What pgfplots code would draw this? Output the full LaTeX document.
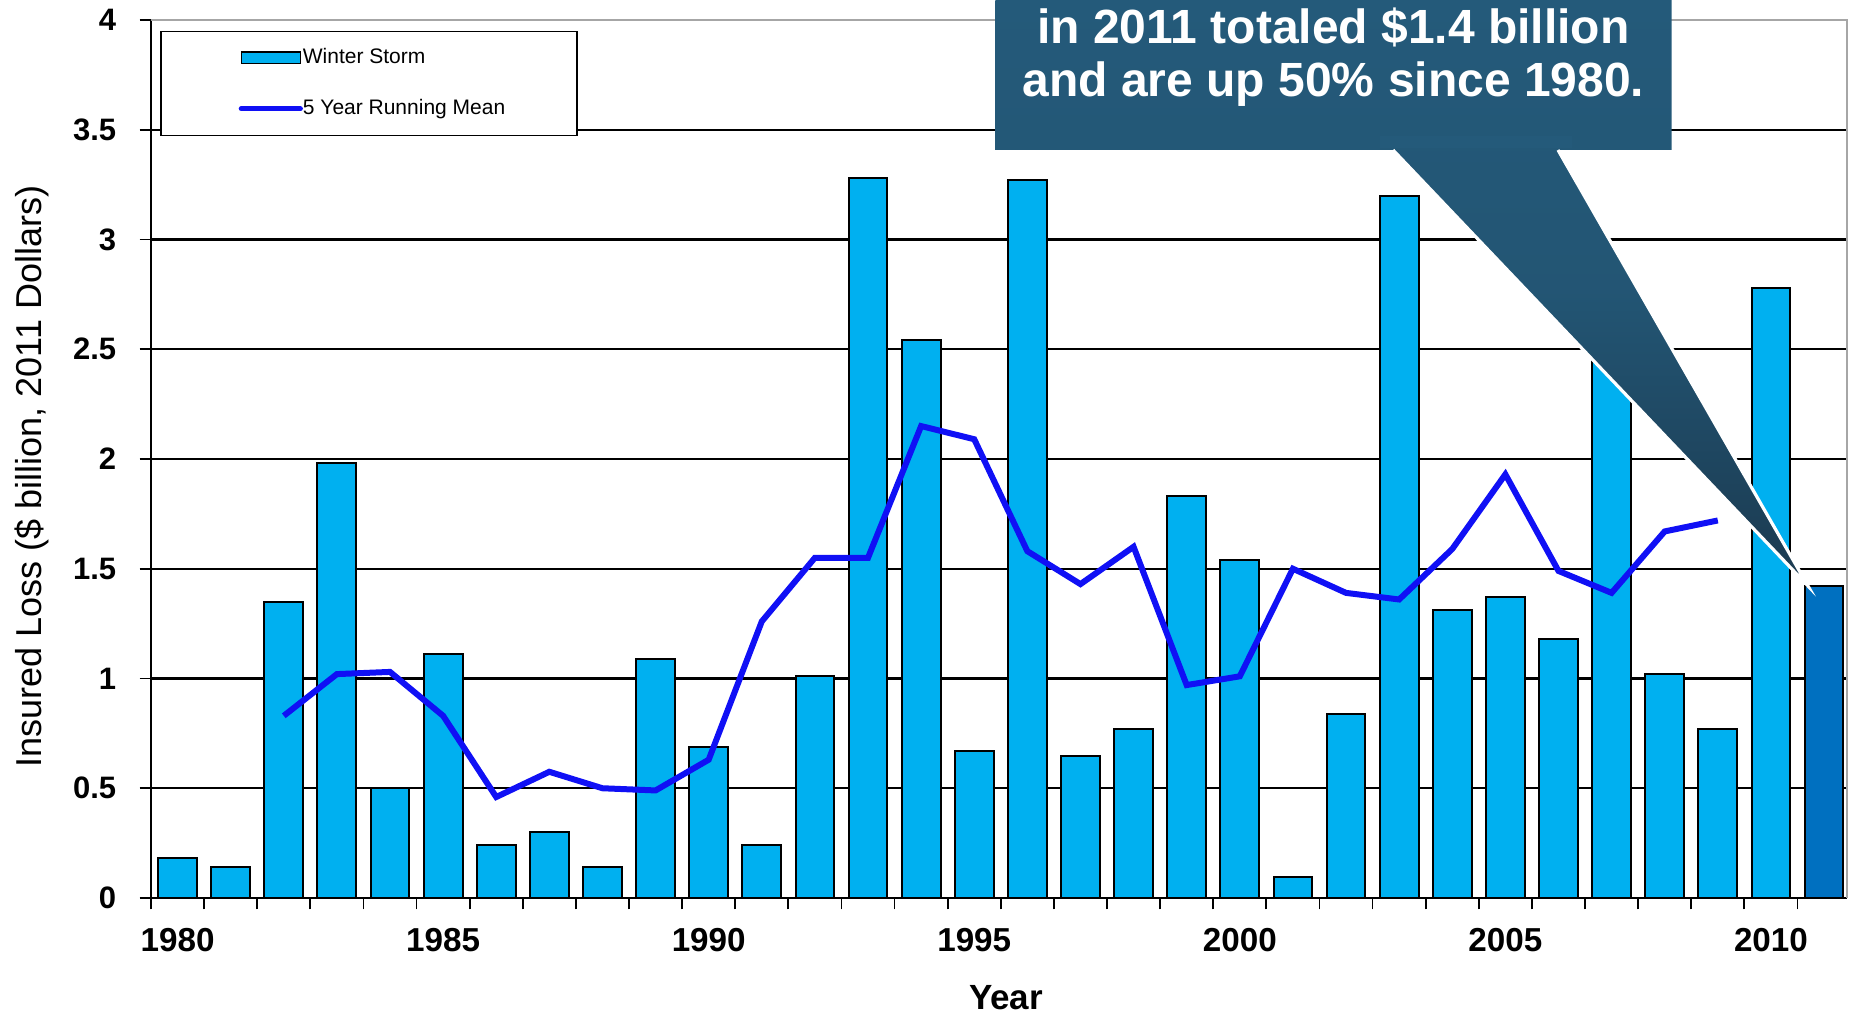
\documentclass[border=0pt]{standalone}
\usepackage{pgfplots}
\pgfplotsset{compat=1.18}
\usepackage{fontspec}
\setmainfont{Liberation Sans}
\definecolor{barblue}{HTML}{00B0F0}
\definecolor{darkbar}{HTML}{0070C0}
\definecolor{meanblue}{HTML}{1010F5}
\definecolor{calltop}{HTML}{245A7A}
\definecolor{callbot}{HTML}{1B3A50}
\begin{document}
\begin{tikzpicture}
\useasboundingbox (0,0) rectangle (925.5bp,508bp);
\begin{axis}[
  at={(75.5bp,59bp)}, anchor=south west,
  scale only axis, width=848.2bp, height=439bp,
  xmin=1979.5, xmax=2011.44, ymin=0, ymax=4,
  ybar, bar width=19.4bp, bar shift=0pt,
  axis lines=left, axis line style={-, line width=1bp},
  tick align=outside,
  xtick={1980,1985,...,2010},
  minor xtick={1979.5,1980.5,...,2011.5},
  every major x tick/.append style={draw=none},
  ytick={0,0.5,...,4},
  major tick length=5.7bp, minor tick length=5.7bp,
  tick style={line width=0.9bp, black},
  ymajorgrids, grid style={line width=1.1bp, black},
  /pgf/number format/assume math mode=true,
  /pgf/number format/1000 sep={},
  yticklabel style={font=\bfseries\fontsize{15.5bp}{17bp}\selectfont, anchor=east, inner sep=0pt, xshift=-11.5bp},
  xticklabel style={font=\bfseries\fontsize{16.6bp}{18bp}\selectfont, anchor=north, inner sep=0pt, yshift=-9.5bp},
  xlabel={\bfseries Year},
  xlabel style={font=\fontsize{17.5bp}{19bp}\selectfont, anchor=base, at={(axis description cs:0.504,0)}, yshift=-55.5bp},
  ylabel={Insured Loss (\$ billion, 2011 Dollars)},
  ylabel style={font=\fontsize{18bp}{20bp}\selectfont, anchor=center, at={(axis description cs:0,0.48)}, yshift=59.5bp},
  clip=false,
  legend style={at={(rel axis cs:0.0056,0.988)}, anchor=north west, draw=black, line width=0.8bp,
    font=\fontsize{10.5bp}{12bp}\selectfont, inner xsep=6bp, inner ysep=8bp,
    nodes={inner sep=0pt, text height=8bp, text depth=2.5bp, anchor=west},
    row sep=15bp, column sep=0pt, legend cell align=left},
]
\addplot[fill=barblue, draw=black, line width=1bp,
  legend image code/.code={\path (-32.5bp,0); \draw[fill=barblue, draw=black, line width=0.8bp] (0,-2.8bp) rectangle (29.5bp,2.8bp);}]
  coordinates {
  (1980,0.18) (1981,0.14) (1982,1.35) (1983,1.98) (1984,0.50)
  (1985,1.11) (1986,0.24) (1987,0.30) (1988,0.14) (1989,1.09)
  (1990,0.69) (1991,0.24) (1992,1.01) (1993,3.28) (1994,2.54)
  (1995,0.67) (1996,3.27) (1997,0.645) (1998,0.77) (1999,1.83)
  (2000,1.54) (2001,0.095) (2002,0.84) (2003,3.20) (2004,1.31)
  (2005,1.37) (2006,1.18) (2007,2.60) (2008,1.02) (2009,0.77)
  (2010,2.78)};
\addlegendentry{Winter Storm}
\addplot[fill=darkbar, draw=black, line width=1bp, forget plot]
  coordinates {(2011,1.42)};
\addplot[sharp plot, meanblue, line width=3bp, mark=none, line join=miter,
  legend image code/.code={\path (-32.5bp,0); \draw[meanblue, line width=2.6bp, line cap=round] (0,0) -- (29.5bp,0);}]
  coordinates {
  (1982,0.83) (1983,1.02) (1984,1.03) (1985,0.83) (1986,0.46)
  (1987,0.575) (1988,0.50) (1989,0.49) (1990,0.63) (1991,1.26)
  (1992,1.55) (1993,1.55) (1994,2.15) (1995,2.09) (1996,1.58)
  (1997,1.43) (1998,1.60) (1999,0.97) (2000,1.01) (2001,1.50)
  (2002,1.39) (2003,1.36) (2004,1.59) (2005,1.93) (2006,1.49)
  (2007,1.39) (2008,1.67) (2009,1.72)};
\addlegendentry{5 Year Running Mean\rule{30bp}{0pt}}
\draw[gray!70, line width=1bp] (rel axis cs:0,1) -- (rel axis cs:1,1) -- (rel axis cs:1,0);
\end{axis}
% callout
\shade[top color=calltop, bottom color=callbot, middle color=calltop!85!callbot]
  (497.7bp,509bp) -- (835.8bp,509bp) -- (835.8bp,433bp) -- (779bp,433bp) -- (904bp,215bp)
  -- (696.5bp,433bp) -- (497.7bp,433bp) -- cycle;
\draw[white, line width=1.6bp] (696.5bp,433bp) -- (904bp,215bp) -- (779bp,433bp);
\fill[calltop] (690bp,433.8bp) rectangle (786bp,440bp);
\node[text=white, font=\bfseries\fontsize{24bp}{26.5bp}\selectfont, align=center, anchor=center]
  at (666.7bp,479.6bp) {in 2011 totaled \$1.4 billion\\and are up 50\% since 1980.};
\end{tikzpicture}
\end{document}
